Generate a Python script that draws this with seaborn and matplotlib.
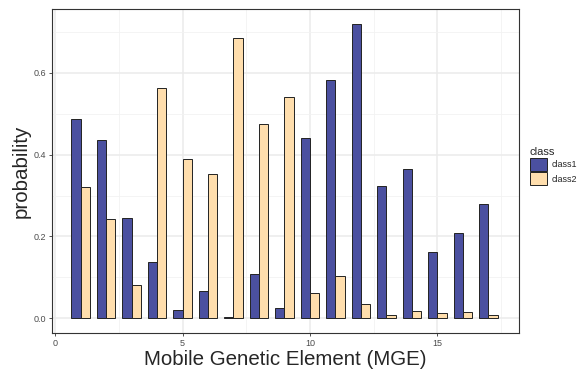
import matplotlib
matplotlib.use('Agg')
import matplotlib.pyplot as plt
from matplotlib.ticker import MultipleLocator
from matplotlib.patches import Patch
import pandas as pd
import seaborn as sns

# data
mge = list(range(1, 18))
class1 = [0.487, 0.436, 0.245, 0.137, 0.019, 0.067, 0.004, 0.109, 0.026,
          0.440, 0.583, 0.719, 0.324, 0.364, 0.162, 0.208, 0.279]
class2 = [0.321, 0.242, 0.082, 0.564, 0.389, 0.353, 0.686, 0.476, 0.542,
          0.061, 0.104, 0.035, 0.007, 0.017, 0.013, 0.016, 0.007]
classes = ['class1', 'class2']
colors = ['#4B50A0', '#FFDEAD']

df = pd.DataFrame({
    'MGE': mge * 2,
    'probability': class1 + class2,
    'class': [classes[0]] * len(mge) + [classes[1]] * len(mge),
})

sns.set_style('white')
plt.rcParams['font.family'] = ['Liberation Sans', 'DejaVu Sans']

fig = plt.figure(figsize=(5.83, 3.7), dpi=100)
ax = fig.add_axes([0.0892, 0.1, 0.8010, 0.8757])

sns.barplot(data=df, x='MGE', y='probability', hue='class', native_scale=True,
            palette=colors, saturation=1, width=0.73, edgecolor='#222222',
            linewidth=0.7, ax=ax, legend=False, zorder=3)

ax.set_xlim(-0.12, 18.2)
ax.set_ylim(-0.036, 0.756)
ax.xaxis.set_minor_locator(MultipleLocator(2.5))
ax.yaxis.set_minor_locator(MultipleLocator(0.1))
ax.set_xticks([0, 5, 10, 15])
ax.set_xticklabels(['0', '5', '10', '15'])
ax.set_yticks([0, 0.2, 0.4, 0.6])
ax.set_yticklabels(['0.0', '0.2', '0.4', '0.6'])

ax.grid(True, which='major', color='#EBEBEB', linewidth=1.1, zorder=0)
ax.grid(True, which='minor', color='#F2F2F2', linewidth=0.6, zorder=0)
ax.set_axisbelow(True)
for s in ax.spines.values():
    s.set_color('#333333')
    s.set_linewidth(0.8)

ax.tick_params(axis='both', which='major', labelsize=6.5, labelcolor='#4D4D4D',
               length=2.5, width=0.6, color='#333333', pad=2, bottom=True, left=True)
ax.tick_params(axis='both', which='minor', length=0)

ax.set_xlabel('Mobile Genetic Element (MGE)', fontsize=14.8, labelpad=1)
ax.set_ylabel('probability', fontsize=14.8, labelpad=2)

handles = [Patch(facecolor=c, edgecolor='#222222', linewidth=0.7) for c in colors]
fig.legend(handles, classes, title='class', loc='upper left',
           bbox_to_anchor=(0.909, 0.603), frameon=False, fontsize=6.5,
           title_fontsize=8, handlelength=1.9, handleheight=1.9,
           handletextpad=0.5, labelspacing=0.1, alignment='left',
           borderaxespad=0, borderpad=0)

fig.savefig('out.png', dpi=100, facecolor='white')
